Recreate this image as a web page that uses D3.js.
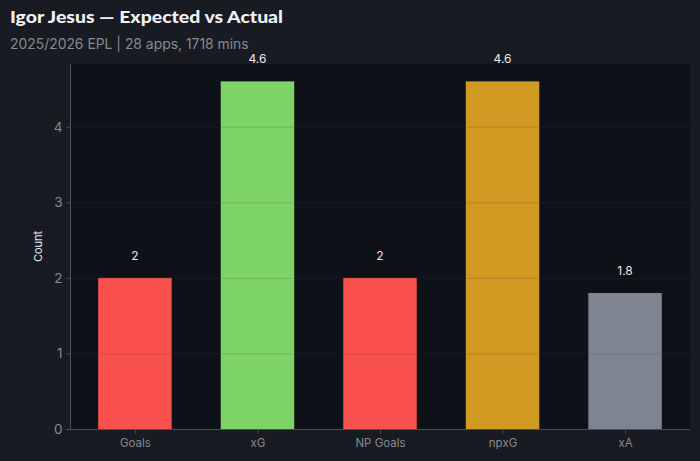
<!DOCTYPE html>
<html><head><meta charset="utf-8">
<script src="https://cdn.jsdelivr.net/npm/d3@7"></script>
<style>
html,body{margin:0;padding:0;background:#181b22;}
svg{display:block;}
</style></head>
<body>
<svg id="chart" width="700" height="461"></svg>
<script>
const categories = ["Goals", "xG", "NP Goals", "npxG", "xA"];
const values = [2, 4.6, 2, 4.6, 1.8];
const labels = ["2", "4.6", "2", "4.6", "1.8"];
const colors = ["#f9524e", "#7dd366", "#f9524e", "#d19a22", "#7f8590"];
const yTicks = [0, 1, 2, 3, 4];

const W = 700, H = 461;
const m = {left: 70, right: 10, top: 64, bottom: 32};
const svg = d3.select("#chart");
svg.append("rect").attr("width", W).attr("height", H).attr("fill", "#181b22");

const x = d3.scaleLinear().domain([-0.53, categories.length - 1 + 0.53]).range([m.left, W - m.right]);
const y = d3.scaleLinear().domain([0, d3.max(values) * 1.05]).range([H - m.bottom, m.top]);
const bw = x(0.6) - x(0);

svg.append("rect").attr("x", m.left).attr("y", m.top)
  .attr("width", W - m.right - m.left).attr("height", H - m.bottom - m.top)
  .attr("fill", "#0e1118");

svg.selectAll("rect.bar").data(values).join("rect").attr("class", "bar")
  .attr("x", (d, i) => x(i) - bw / 2).attr("width", bw)
  .attr("y", d => y(d)).attr("height", d => y(0) - y(d))
  .attr("fill", (d, i) => colors[i]);

// grid above bars
svg.append("g").selectAll("line").data(yTicks.filter(t => t > 0)).join("line")
  .attr("x1", m.left).attr("x2", W - m.right)
  .attr("y1", d => y(d) + 0.5).attr("y2", d => y(d) + 0.5)
  .attr("stroke", "#3c3c3c").attr("stroke-opacity", 0.2).attr("stroke-width", 1);

// value labels
svg.selectAll("text.val").data(values).join("text").attr("class", "val")
  .attr("x", (d, i) => x(i)).attr("y", d => y(d) - 18)
  .attr("text-anchor", "middle").attr("fill", "#e6e8ec")
  .attr("font-family", "Inter, sans-serif").attr("font-size", 12)
  .text((d, i) => labels[i]);

// axes
const yAxis = d3.axisLeft(y).tickValues(yTicks).tickFormat(d3.format("d")).tickSize(4).tickPadding(4);
const gy = svg.append("g").attr("transform", `translate(${m.left + 0.5},0)`).call(yAxis);
gy.select(".domain").attr("stroke", "#4a4e57").attr("d", `M0,${m.top}V${y(0)}`);
gy.selectAll(".tick line").attr("stroke", "#4a4e57");
gy.selectAll(".tick text").attr("fill", "#858a93").attr("font-family", "Inter, sans-serif").attr("font-size", 13.5);

const xAxis = d3.axisBottom(x).tickValues(d3.range(categories.length)).tickFormat(i => categories[i]).tickSize(4).tickPadding(5);
const gx = svg.append("g").attr("transform", `translate(0,${y(0) + 0.5})`).call(xAxis);
gx.select(".domain").attr("stroke", "#4a4e57").attr("d", `M${m.left - 4},0H${W - m.right}`);
gx.selectAll(".tick line").attr("stroke", "#4a4e57");
gx.selectAll(".tick text").attr("fill", "#858a93").attr("font-family", "Inter, sans-serif").attr("font-size", 11.5);

svg.append("text").attr("transform", `translate(42,${(m.top + y(0)) / 2}) rotate(-90)`)
  .attr("text-anchor", "middle").attr("fill", "#e6e8ec")
  .attr("font-family", "Inter, sans-serif").attr("font-size", 11).text("Count");

svg.append("text").attr("x", 10).attr("y", 23).attr("fill", "#eef0f4")
  .attr("font-family", "Lato, sans-serif").attr("font-weight", 900).attr("font-size", 17)
  .attr("textLength", 273).attr("lengthAdjust", "spacingAndGlyphs")
  .text("Igor Jesus — Expected vs Actual");
svg.append("text").attr("x", 10).attr("y", 49).attr("fill", "#858a93")
  .attr("font-family", "Inter, sans-serif").attr("font-size", 13.9)
  .text("2025/2026 EPL | 28 apps, 1718 mins");
</script>
</body></html>
